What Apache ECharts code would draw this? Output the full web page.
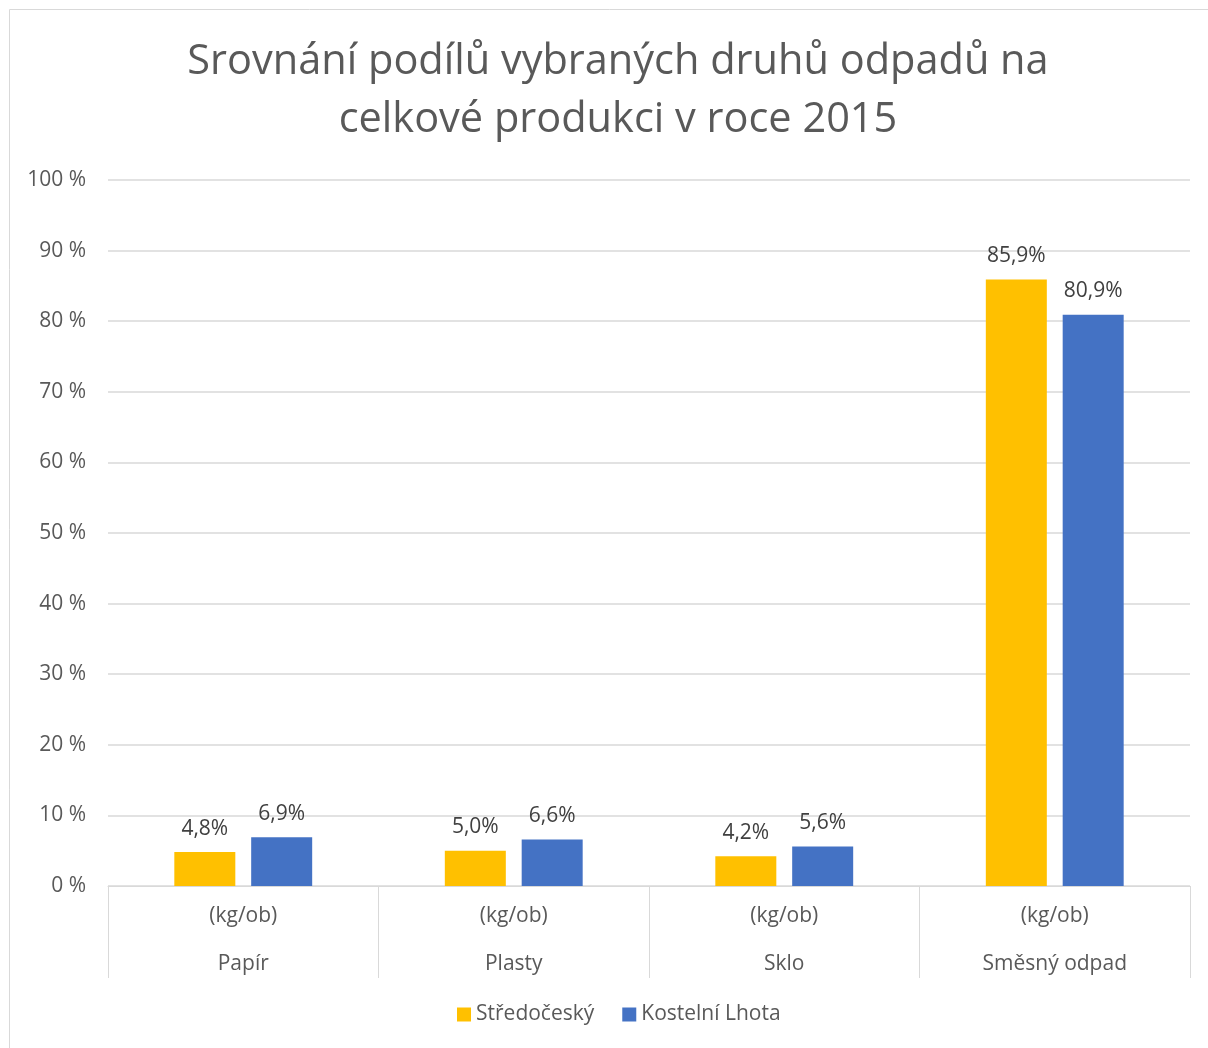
<!DOCTYPE html>
<html>
<head>
<meta charset="utf-8">
<script src="https://cdn.jsdelivr.net/npm/echarts@6/dist/echarts.min.js"></script>
<style>
  html, body { margin: 0; padding: 0; background: #fff; }
  #chart { width: 1208px; height: 1048px; }
</style>
</head>
<body>
<div id="chart"></div>
<script>
// data
const categories = ['Papír', 'Plasty', 'Sklo', 'Směsný odpad'];
const unitLabels = ['(kg/ob)', '(kg/ob)', '(kg/ob)', '(kg/ob)'];
const stredocesky = [4.8, 5.0, 4.2, 85.9];
const kostelniLhota = [6.9, 6.6, 5.6, 80.9];
const yTicks = [0, 10, 20, 30, 40, 50, 60, 70, 80, 90, 100];

const font = '"Open Sans", "Noto Sans", sans-serif';
const textColor = '#595959';

let myChart = echarts.init(document.getElementById('chart'));

function pct(params) {
  return params.value.toFixed(1).replace('.', ',') + '%';
}

let option = {
  textStyle: { fontFamily: font },
  title: {
    text: 'Srovnání podílů vybraných druhů odpadů na\ncelkové produkci v roce 2015',
    left: 613,
    textAlign: 'center',
    top: 28,
    textStyle: {
      fontFamily: font,
      fontSize: 41.5,
      fontWeight: 'normal',
      color: textColor,
      lineHeight: 58
    }
  },
  legend: {
    bottom: 18,
    left: 452,
    itemWidth: 14,
    itemHeight: 14,
    itemGap: 28,
    icon: 'rect',
    textStyle: { fontFamily: font, fontSize: 21, color: textColor },
    data: ['Středočeský', 'Kostelní Lhota']
  },
  graphic: [{
    type: 'rect',
    shape: { x: 9.5, y: 9.5, width: 1220, height: 1060 },
    style: { fill: 'none', stroke: '#d9d9d9', lineWidth: 1 },
    silent: true
  }],
  grid: { left: 108, right: 18, top: 180, bottom: 162 },
  xAxis: [
    {
      type: 'category',
      data: unitLabels,
      axisLine: { lineStyle: { color: '#d9d9d9' } },
      axisTick: { show: true, length: 92, interval: 0, lineStyle: { color: '#d9d9d9' } },
      axisLabel: { interval: 0, margin: 20, fontSize: 21, color: textColor, fontFamily: font }
    },
    {
      type: 'category',
      position: 'bottom',
      offset: 48,
      data: categories,
      axisLine: { show: false },
      axisTick: { show: false },
      axisLabel: { interval: 0, margin: 20, fontSize: 21, color: textColor, fontFamily: font }
    }
  ],
  yAxis: {
    type: 'value',
    min: 0,
    max: 100,
    interval: 10,
    axisLine: { show: false },
    axisTick: { show: false },
    splitLine: { lineStyle: { color: '#d9d9d9', width: 1.5 } },
    axisLabel: {
      margin: 22,
      fontSize: 21,
      color: textColor,
      fontFamily: font,
      formatter: v => yTicks.includes(v) ? v + ' %' : ''
    }
  },
  series: [
    {
      name: 'Středočeský',
      type: 'bar',
      xAxisIndex: 0,
      data: stredocesky,
      barWidth: 61,
      barGap: '26%',
      itemStyle: { color: '#FFC000' },
      label: { show: true, position: 'top', distance: 13, formatter: pct, fontSize: 21, color: '#404040', fontFamily: font }
    },
    {
      name: 'Kostelní Lhota',
      type: 'bar',
      xAxisIndex: 0,
      data: kostelniLhota,
      barWidth: 61,
      barGap: '26%',
      itemStyle: { color: '#4472C4' },
      label: { show: true, position: 'top', distance: 13, formatter: pct, fontSize: 21, color: '#404040', fontFamily: font }
    }
  ]
};

myChart.setOption(option);
</script>
</body>
</html>
